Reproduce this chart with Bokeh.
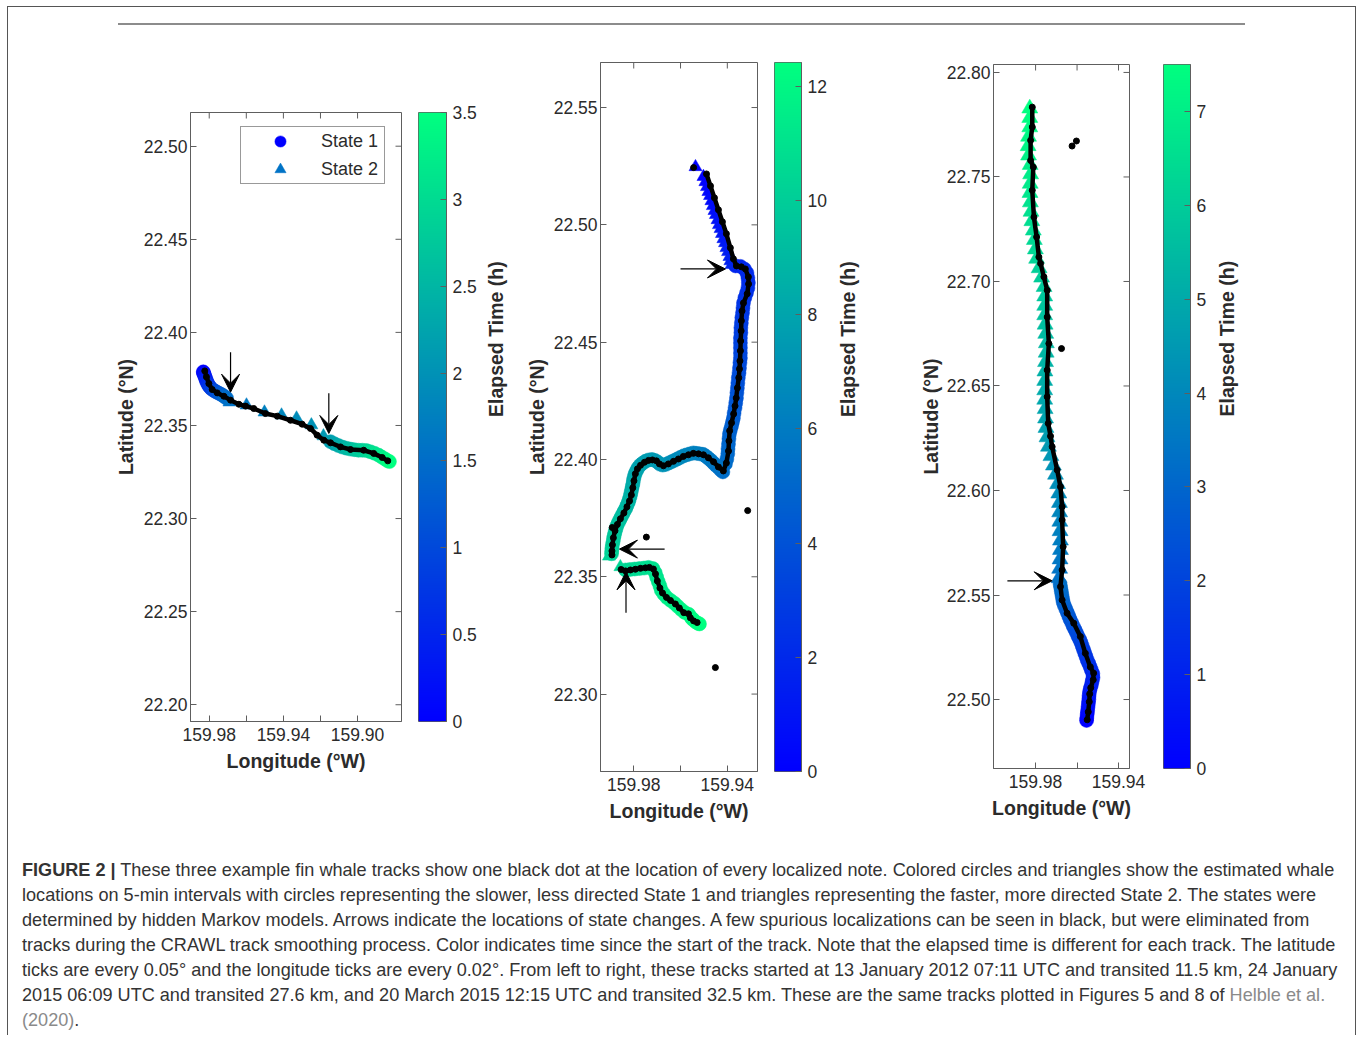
import numpy as np
from bokeh.plotting import figure
from bokeh.models import (Range1d, LinearAxis, FixedTicker, NumeralTickFormatter, ColumnDataSource,
                          LinearColorMapper, Arrow, VeeHead, Legend, LegendItem, Div)
from bokeh.layouts import row, column
from bokeh.transform import transform
from bokeh.core.properties import field
from bokeh.embed import file_html
from bokeh.resources import INLINE

STEP_H = 5.0 / 60.0  # estimated locations are on 5-min intervals

# ---------------- Track 1 (13 Jan 2012) ----------------
p1_lon = [159.9832, 159.9831, 159.9828, 159.9824, 159.9820, 159.9817, 159.9813, 159.9808, 159.9803, 159.9796,
          159.9789, 159.9780, 159.9770, 159.9761, 159.9750, 159.9739, 159.9728, 159.9718, 159.9707,
          159.9691, 159.9599, 159.9502, 159.9410, 159.9329, 159.9249, 159.9184,
          159.9146, 159.9125, 159.9103, 159.9082, 159.9060, 159.9038, 159.9017, 159.8995, 159.8974, 159.8952,
          159.8931, 159.8909, 159.8887, 159.8869, 159.8852, 159.8839, 159.8828]
p1_lat = [22.3788, 22.3783, 22.3775, 22.3766, 22.3755, 22.3745, 22.3735, 22.3725, 22.3715, 22.3706,
          22.3698, 22.3691, 22.3685, 22.3680, 22.3674, 22.3669, 22.3662, 22.3656, 22.3647,
          22.3625, 22.3609, 22.3571, 22.3555, 22.3539, 22.3502, 22.3443,
          22.3413, 22.3402, 22.3392, 22.3384, 22.3378, 22.3373, 22.3370, 22.3367, 22.3367, 22.3365,
          22.3359, 22.3351, 22.3341, 22.3330, 22.3320, 22.3311, 22.3306]
p1_state = [1] * 19 + [2] * 7 + [1] * 17
p1_loc_lon = [159.9824, 159.9815, 159.9802, 159.9784, 159.9757, 159.9721, 159.9685, 159.9640, 159.9604, 159.9560,
              159.9497, 159.9433, 159.9362, 159.9299, 159.9254, 159.9218, 159.9182, 159.9146, 159.9092, 159.9038,
              159.8967, 159.8913, 159.8867, 159.8837]
p1_loc_lat = [22.3793, 22.3761, 22.3725, 22.3693, 22.3675, 22.3657, 22.3636, 22.3614, 22.3604, 22.3591,
              22.3564, 22.3550, 22.3528, 22.3507, 22.3484, 22.3448, 22.3421, 22.3407, 22.3385, 22.3371,
              22.3367, 22.3350, 22.3328, 22.3310]
p1_other_lon = []
p1_other_lat = []
p1_arrows = [(159.9685, 22.3893, 159.9685, 22.3679), (159.9155, 22.3673, 159.9155, 22.3457)]

# ---------------- Track 2 (24 Jan 2015) ----------------
p2_lon = [159.9536, 159.9502, 159.9494, 159.9487, 159.9481, 159.9474, 159.9468, 159.9462, 159.9455, 159.9449,
          159.9442, 159.9436, 159.9429, 159.9423, 159.9417, 159.9410, 159.9404, 159.9397, 159.9391, 159.9387,
          159.9382,
          159.9365, 159.9344, 159.9327, 159.9316, 159.9312, 159.9310, 159.9312, 159.9318, 159.9325, 159.9331,
          159.9333, 159.9335, 159.9338, 159.9340, 159.9342, 159.9342, 159.9344, 159.9344, 159.9344, 159.9344,
          159.9344, 159.9346, 159.9348, 159.9350, 159.9353, 159.9355, 159.9357, 159.9359, 159.9361, 159.9364,
          159.9367, 159.9371, 159.9374, 159.9378, 159.9382, 159.9387, 159.9391, 159.9393, 159.9395, 159.9397,
          159.9398, 159.9402, 159.9408,
          159.9419, 159.9429, 159.9438, 159.9449, 159.9459, 159.9470, 159.9481, 159.9492, 159.9504, 159.9518,
          159.9532, 159.9545, 159.9559, 159.9573, 159.9586, 159.9600, 159.9612, 159.9624, 159.9637, 159.9650,
          159.9663, 159.9676, 159.9688, 159.9698, 159.9709, 159.9722, 159.9736, 159.9749, 159.9761, 159.9772,
          159.9781, 159.9788, 159.9794, 159.9798, 159.9801, 159.9803, 159.9806, 159.9809, 159.9812, 159.9815,
          159.9819, 159.9823, 159.9829, 159.9834, 159.9841, 159.9847, 159.9854, 159.9860, 159.9866, 159.9872,
          159.9876, 159.9880, 159.9883, 159.9886, 159.9888, 159.9891, 159.9893, 159.9894, 159.9895,
          159.9906, 159.9857,
          159.9835, 159.9816, 159.9796, 159.9776, 159.9756, 159.9737, 159.9718, 159.9708, 159.9702, 159.9695,
          159.9688, 159.9682, 159.9671, 159.9658, 159.9642, 159.9626, 159.9612, 159.9597, 159.9582, 159.9565,
          159.9553, 159.9547, 159.9536, 159.9526, 159.9519]
p2_lat = [22.5247, 22.5205, 22.5183, 22.5162, 22.5141, 22.5124, 22.5102, 22.5081, 22.5060, 22.5043,
          22.5021, 22.5000, 22.4983, 22.4962, 22.4940, 22.4923, 22.4902, 22.4885, 22.4864, 22.4846,
          22.4830,
          22.4825, 22.4823, 22.4812, 22.4795, 22.4774, 22.4753, 22.4731, 22.4710, 22.4689, 22.4667,
          22.4646, 22.4625, 22.4604, 22.4582, 22.4561, 22.4540, 22.4518, 22.4497, 22.4476, 22.4454,
          22.4433, 22.4412, 22.4390, 22.4369, 22.4348, 22.4326, 22.4305, 22.4284, 22.4262, 22.4241,
          22.4220, 22.4198, 22.4177, 22.4160, 22.4143, 22.4126, 22.4109, 22.4088, 22.4066, 22.4045,
          22.4024, 22.4002, 22.3981,
          22.3947, 22.3956, 22.3966, 22.3975, 22.3985, 22.3996, 22.4005, 22.4014, 22.4022, 22.4024,
          22.4026, 22.4028, 22.4024, 22.4020, 22.4016, 22.4009, 22.4003, 22.3997, 22.3991, 22.3985,
          22.3979, 22.3976, 22.3980, 22.3989, 22.3996, 22.4000, 22.3998, 22.3993, 22.3985, 22.3976,
          22.3965, 22.3952, 22.3939, 22.3926, 22.3912, 22.3898, 22.3885, 22.3871, 22.3857, 22.3844,
          22.3830, 22.3817, 22.3804, 22.3791, 22.3779, 22.3767, 22.3754, 22.3742, 22.3730, 22.3717,
          22.3704, 22.3691, 22.3677, 22.3664, 22.3650, 22.3637, 22.3623, 22.3610, 22.3598,
          22.3587, 22.3542,
          22.3529, 22.3531, 22.3533, 22.3535, 22.3537, 22.3540, 22.3535, 22.3517, 22.3498, 22.3479,
          22.3461, 22.3442, 22.3426, 22.3411, 22.3399, 22.3387, 22.3374, 22.3360, 22.3348, 22.3340,
          22.3324, 22.3318, 22.3308, 22.3302, 22.3299]
p2_state = [2] * 21 + [1] * 102 + [2] * 2 + [1] * 25
p2_loc_lon_a = [159.9489, 159.9472, 159.9455, 159.9438, 159.9421, 159.9404, 159.9387, 159.9374, 159.9361, 159.9340,
                159.9323, 159.9310, 159.9309, 159.9315, 159.9331, 159.9337, 159.9340, 159.9341, 159.9343, 159.9344,
                159.9346, 159.9348, 159.9351, 159.9357, 159.9362, 159.9367, 159.9373, 159.9382, 159.9390, 159.9393,
                159.9395, 159.9404, 159.9417, 159.9438, 159.9459, 159.9481, 159.9502, 159.9523, 159.9545, 159.9566,
                159.9588, 159.9609, 159.9630, 159.9652, 159.9673, 159.9690, 159.9703, 159.9720, 159.9737, 159.9754,
                159.9771, 159.9784, 159.9793, 159.9799, 159.9804, 159.9810, 159.9818, 159.9829, 159.9842, 159.9857,
                159.9870, 159.9880, 159.9887, 159.9891, 159.9893, 159.9893]
p2_loc_lat_a = [22.5217, 22.5166, 22.5115, 22.5064, 22.5013, 22.4962, 22.4902, 22.4855, 22.4825, 22.4821,
                22.4812, 22.4778, 22.4748, 22.4706, 22.4667, 22.4633, 22.4591, 22.4548, 22.4505, 22.4463,
                22.4420, 22.4386, 22.4348, 22.4305, 22.4262, 22.4228, 22.4194, 22.4156, 22.4122, 22.4079,
                22.4036, 22.3985, 22.3951, 22.3968, 22.3990, 22.4007, 22.4020, 22.4024, 22.4026, 22.4020,
                22.4013, 22.4002, 22.3992, 22.3981, 22.3973, 22.3981, 22.3994, 22.3998, 22.3996, 22.3988,
                22.3975, 22.3960, 22.3939, 22.3909, 22.3879, 22.3849, 22.3823, 22.3798, 22.3772, 22.3747,
                22.3723, 22.3696, 22.3666, 22.3636, 22.3610, 22.3593]
p2_loc_lon_b = [159.9854, 159.9835, 159.9814, 159.9793, 159.9771, 159.9750, 159.9733, 159.9716, 159.9707, 159.9699,
                159.9688, 159.9677, 159.9660, 159.9643, 159.9622, 159.9605, 159.9586, 159.9566, 159.9558, 159.9544,
                159.9529]
p2_loc_lat_b = [22.3531, 22.3525, 22.3529, 22.3532, 22.3536, 22.3538, 22.3540, 22.3533, 22.3512, 22.3482,
                22.3452, 22.3431, 22.3412, 22.3399, 22.3384, 22.3367, 22.3347, 22.3342, 22.3325, 22.3312,
                22.3305]
p2_other_lon = [159.9544, 159.9746, 159.9313, 159.9451, 159.9892]
p2_other_lat = [22.5244, 22.3669, 22.3782, 22.3113, 22.3710]
p2_arrows = [(159.9600, 22.4812, 159.9408, 22.4812), (159.9668, 22.3618, 159.9861, 22.3618),
             (159.9833, 22.3347, 159.9833, 22.3521)]

# ---------------- Track 3 (20 Mar 2015) ----------------
p3_lon = [159.9554, 159.9553, 159.9551, 159.9549, 159.9547, 159.9545, 159.9543, 159.9542, 159.9540, 159.9536,
          159.9531, 159.9527, 159.9523, 159.9524, 159.9531, 159.9537, 159.9544, 159.9551, 159.9557, 159.9563,
          159.9569, 159.9575, 159.9581, 159.9588, 159.9596, 159.9603, 159.9611, 159.9619, 159.9626, 159.9634,
          159.9640, 159.9647, 159.9654, 159.9661, 159.9667, 159.9670, 159.9673, 159.9676, 159.9679, 159.9682,
          159.9687, 159.9684, 159.9682, 159.9680, 159.9680, 159.9682, 159.9683, 159.9684, 159.9685, 159.9688,
          159.9694, 159.9704, 159.9714, 159.9726, 159.9738, 159.9745, 159.9750, 159.9752, 159.9754, 159.9756,
          159.9756, 159.9756, 159.9755, 159.9752, 159.9749, 159.9748, 159.9751, 159.9754, 159.9756, 159.9756,
          159.9756, 159.9759, 159.9771, 159.9783, 159.9795, 159.9801, 159.9806, 159.9811, 159.9818, 159.9822,
          159.9825, 159.9827, 159.9826, 159.9824, 159.9826, 159.9834, 159.9836, 159.9834, 159.9828, 159.9828,
          159.9828]
p3_lat = [22.4900, 22.4912, 22.4930, 22.4947, 22.4965, 22.4983, 22.5001, 22.5018, 22.5036, 22.5053,
          22.5070, 22.5088, 22.5105, 22.5124, 22.5141, 22.5157, 22.5174, 22.5189, 22.5206, 22.5223,
          22.5239, 22.5256, 22.5273, 22.5288, 22.5304, 22.5320, 22.5336, 22.5352, 22.5368, 22.5384,
          22.5400, 22.5416, 22.5433, 22.5449, 22.5466, 22.5483, 22.5501, 22.5518, 22.5536, 22.5553,
          22.5581, 22.5626, 22.5671, 22.5716, 22.5761, 22.5806, 22.5851, 22.5896, 22.5941, 22.5986,
          22.6031, 22.6076, 22.6120, 22.6165, 22.6210, 22.6255, 22.6300, 22.6345, 22.6390, 22.6435,
          22.6480, 22.6525, 22.6570, 22.6615, 22.6660, 22.6705, 22.6750, 22.6794, 22.6839, 22.6884,
          22.6929, 22.6974, 22.7019, 22.7064, 22.7109, 22.7154, 22.7199, 22.7244, 22.7289, 22.7334,
          22.7379, 22.7424, 22.7468, 22.7513, 22.7558, 22.7603, 22.7648, 22.7693, 22.7738, 22.7783,
          22.7828]
p3_state = [1] * 40 + [2] * 51
p3_loc_lon = [159.9551, 159.9546, 159.9541, 159.9539, 159.9534, 159.9522, 159.9520, 159.9536, 159.9560, 159.9584,
              159.9616, 159.9648, 159.9672, 159.9680, 159.9672, 159.9667, 159.9672, 159.9672, 159.9680, 159.9696,
              159.9720, 159.9728, 159.9739, 159.9744, 159.9744, 159.9736, 159.9744, 159.9744, 159.9760, 159.9776,
              159.9784, 159.9795, 159.9808, 159.9816, 159.9811, 159.9824, 159.9824, 159.9816, 159.9816]
p3_loc_lat = [22.4903, 22.4941, 22.4989, 22.5027, 22.5056, 22.5094, 22.5126, 22.5156, 22.5221, 22.5301,
              22.5365, 22.5413, 22.5476, 22.5540, 22.5620, 22.5731, 22.5859, 22.5922, 22.6018, 22.6098,
              22.6209, 22.6260, 22.6321, 22.6448, 22.6576, 22.6703, 22.6830, 22.6958, 22.7022, 22.7086,
              22.7117, 22.7213, 22.7308, 22.7436, 22.7547, 22.7579, 22.7675, 22.7739, 22.7834]
p3_other_lon = [159.9624, 159.9603, 159.9675]
p3_other_lat = [22.7648, 22.7672, 22.6679]
p3_arrows = [(159.9936, 22.5568, 159.9720, 22.5568)]

# ticks
p1_xticks, p1_xminor = [159.98, 159.94, 159.90], [159.96, 159.92]
p1_yticks = [22.20, 22.25, 22.30, 22.35, 22.40, 22.45, 22.50]
p2_xticks, p2_xminor = [159.98, 159.94], [159.96]
p2_yticks = [22.30, 22.35, 22.40, 22.45, 22.50, 22.55]
p3_xticks, p3_xminor = [159.98, 159.94], [159.96]
p3_yticks = [22.50, 22.55, 22.60, 22.65, 22.70, 22.75, 22.80]
cb1_ticks = [0, 0.5, 1, 1.5, 2, 2.5, 3, 3.5]
cb2_ticks = [0, 2, 4, 6, 8, 10, 12]
cb3_ticks = [0, 1, 2, 3, 4, 5, 6, 7]

caption_lines = [
    "<b>FIGURE 2 |</b> These three example fin whale tracks show one black dot at the location of every localized note. Colored circles and triangles show the estimated whale",
    "locations on 5-min intervals with circles representing the slower, less directed State 1 and triangles representing the faster, more directed State 2. The states were",
    "determined by hidden Markov models. Arrows indicate the locations of state changes. A few spurious localizations can be seen in black, but were eliminated from",
    "tracks during the CRAWL track smoothing process. Color indicates time since the start of the track. Note that the elapsed time is different for each track. The latitude",
    "ticks are every 0.05\u00b0 and the longitude ticks are every 0.02\u00b0. From left to right, these tracks started at 13 January 2012 07:11 UTC and transited 11.5 km, 24 January",
    "2015 06:09 UTC and transited 27.6 km, and 20 March 2015 12:15 UTC and transited 32.5 km. These are the same tracks plotted in Figures 5 and 8 of <span style='color:#8a8a8a'>Helble et al.</span>",
    "<span style='color:#8a8a8a'>(2020)</span>.",
]

# ---------------- styling ----------------
FONT = "Liberation Sans"
AXC = "#5e5e5e"
TXC = "#2b2b2b"
PAL = ["#%02x%02x%02x" % (0, int(round(255 * i / 255)), int(round(255 - 127.5 * i / 255))) for i in range(256)]
H = 800


def style_axis(ax):
    ax.axis_line_color = AXC
    ax.major_tick_line_color = AXC
    ax.minor_tick_line_color = AXC
    ax.major_tick_in = 6
    ax.major_tick_out = 0
    ax.minor_tick_in = 6
    ax.minor_tick_out = 0
    ax.major_label_text_font = FONT
    ax.major_label_text_font_size = "17.5px"
    ax.major_label_text_color = TXC
    ax.axis_label_text_font = FONT
    ax.axis_label_text_font_size = "19.5px"
    ax.axis_label_text_font_style = "bold"
    ax.axis_label_text_color = TXC


def new_fig(width, xr, yr, borders):
    left, right, top, bottom = borders
    p = figure(width=width, height=H, x_range=Range1d(*xr), y_range=Range1d(*yr),
               x_axis_type=None, y_axis_type=None, output_backend="svg", toolbar_location=None,
               min_border_left=left, min_border_right=right, min_border_top=top, min_border_bottom=bottom)
    try:
        p.frame_align = False
    except Exception:
        pass
    p.outline_line_color = AXC
    return p


def track_panel(lon, lat, states, loc_segments, other_lon, other_lat, arrows, xr, yr, xt, xm, yt,
                width, borders, ylab_standoff, circ_size, tri_size):
    n = len(lon)
    t = [i * STEP_H for i in range(n)]
    mapper = LinearColorMapper(palette=PAL, low=0, high=t[-1])
    p = new_fig(width, xr, yr, borders)
    ax = LinearAxis(ticker=FixedTicker(ticks=xt, minor_ticks=xm), formatter=NumeralTickFormatter(format="0.00"))
    style_axis(ax)
    ax.axis_label = "Longitude (\u00b0W)"
    ax.major_label_standoff = 6
    ax.axis_label_standoff = 6
    p.add_layout(ax, "below")
    ay = LinearAxis(ticker=FixedTicker(ticks=yt), formatter=NumeralTickFormatter(format="0.00"))
    style_axis(ay)
    ay.axis_label = "Latitude (\u00b0N)"
    ay.major_label_standoff = 3
    ay.axis_label_standoff = ylab_standoff
    p.add_layout(ay, "left")
    # mirrored inward ticks on the top and right edges of the box
    xall = list(xt) + list(xm)
    p.ray(x=xall, y=[yr[1]] * len(xall), length=6, length_units="screen", angle=-np.pi / 2,
          line_color=AXC, line_width=1)
    p.ray(x=[xr[1]] * len(yt), y=list(yt), length=6, length_units="screen", angle=np.pi,
          line_color=AXC, line_width=1)

    src = ColumnDataSource(dict(lon=lon, lat=lat, t=t,
                                marker=["circle" if s == 1 else "triangle" for s in states],
                                msize=[circ_size if s == 1 else tri_size for s in states]))
    cm = transform("t", mapper)
    r = p.scatter("lon", "lat", source=src, marker=field("marker"), size="msize", fill_color=cm,
                  line_color=cm, line_width=0.5)
    xs = [list(s[0]) for s in loc_segments]
    ys = [list(s[1]) for s in loc_segments]
    p.multi_line(xs, ys, line_color="black", line_width=4.5)
    all_x = [v for s in xs for v in s] + list(other_lon)
    all_y = [v for s in ys for v in s] + list(other_lat)
    p.scatter(all_x, all_y, size=6, color="black")
    for (x0, y0, x1, y1) in arrows:
        p.add_layout(Arrow(end=VeeHead(size=18, fill_color="black", line_color="black", line_width=1),
                           x_start=x0, y_start=y0, x_end=x1, y_end=y1,
                           line_color="black", line_width=1.2))
    return p, t[-1], r


def colorbar_fig(tmax, ticks, width, borders, lab_standoff):
    mapper = LinearColorMapper(palette=PAL, low=0, high=tmax)
    c = new_fig(width, (0, 1), (0, tmax), borders)
    grad = np.linspace(0, tmax, 512).reshape(-1, 1)
    c.image(image=[grad], x=0, y=0, dw=1, dh=tmax, color_mapper=mapper)
    ax = LinearAxis(ticker=FixedTicker(ticks=ticks), formatter=NumeralTickFormatter(format="0.[0]"))
    style_axis(ax)
    ax.major_label_standoff = 6
    ax.axis_label = "Elapsed Time (h)"
    ax.axis_label_standoff = lab_standoff
    try:
        ax.axis_label_orientation = np.pi / 2
    except Exception:
        pass
    c.add_layout(ax, "right")
    return c


f1, t1, r1 = track_panel(p1_lon, p1_lat, p1_state, [(p1_loc_lon, p1_loc_lat)], p1_other_lon, p1_other_lat,
                         p1_arrows, (159.9901, 159.8763), (22.1910, 22.5181), p1_xticks, p1_xminor, p1_yticks,
                         410, (182, 17, 62, 129), 4, 14, 13)
first_s2 = p1_state.index(2)
leg = Legend(items=[LegendItem(label="State 1", renderers=[r1], index=0),
                    LegendItem(label="State 2", renderers=[r1], index=first_s2)],
             location=(50, 537), margin=0, padding=0, spacing=0, glyph_width=78, glyph_height=28,
             label_standoff=2, label_width=63, label_height=20,
             label_text_font=FONT, label_text_font_size="18px", label_text_color=TXC,
             border_line_color="#333333", border_line_width=1, background_fill_color="white",
             background_fill_alpha=1)
f1.add_layout(leg)
c1 = colorbar_fig(t1, cb1_ticks, 102, (0, 74, 62, 129), 16)

f2, t2, _ = track_panel(p2_lon, p2_lat, p2_state, [(p2_loc_lon_a, p2_loc_lat_a), (p2_loc_lon_b, p2_loc_lat_b)],
                        p2_other_lon, p2_other_lat, p2_arrows, (159.9942, 159.9271), (22.2670, 22.5692),
                        p2_xticks, p2_xminor, p2_yticks, 254, (80, 17, 12, 79), 3, 14, 13)
c2 = colorbar_fig(t2, cb2_ticks, 126, (0, 99, 12, 79), 18)

f3, t3, _ = track_panel(p3_lon, p3_lat, p3_state, [(p3_loc_lon, p3_loc_lat)], p3_other_lon, p3_other_lat,
                        p3_arrows, (160.0003, 159.9347), (22.4670, 22.8038), p3_xticks, p3_xminor, p3_yticks,
                        263, (93, 34, 14, 82), 2, 14, 16)
c3 = colorbar_fig(t3, cb3_ticks, 192, (0, 165, 14, 82), 18)

header = Div(text="<div style='margin-left:110px;padding-top:16px;width:1127px'>"
                  "<div style='border-top:2px solid #8c8c8c;width:1127px'></div></div>",
             width=1347, height=43, margin=0)
cap_html = ("<div style=\"font-family:'Liberation Sans',Arial,sans-serif;font-size:18.1px;line-height:25px;"
            "color:#333;padding-left:14px;padding-top:8px;white-space:nowrap\">"
            + "<br>".join(caption_lines) + "</div>")
caption = Div(text=cap_html, width=1347, height=185, margin=0)

layout = column(header, row(f1, c1, f2, c2, f3, c3), caption,
                styles={"margin-left": "7px", "margin-top": "6px",
                        "border-left": "1px solid #555", "border-top": "1px solid #555",
                        "border-right": "1px solid #555"})

open("out.html", "w").write(file_html(layout, INLINE))
